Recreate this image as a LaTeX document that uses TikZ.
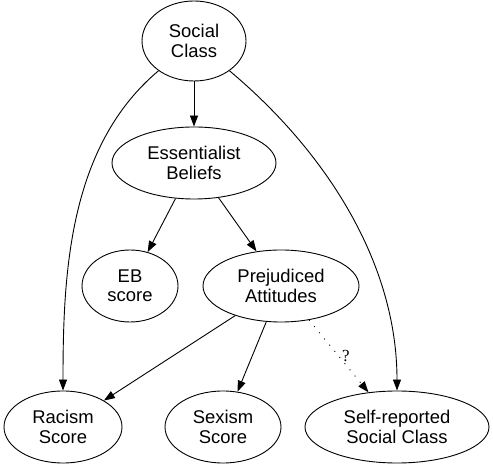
\documentclass[tikz,border=0pt]{standalone}
\usepackage{fontspec}
\setmainfont{Liberation Sans}
\newfontfamily\qfont{Liberation Serif}
\usetikzlibrary{calc,shapes,arrows.meta}

\begin{document}
\begin{tikzpicture}[x=1bp, y=1bp,
    var/.style = {ellipse, draw, line width=0.9bp, align=center, inner sep=0pt,
                  font=\fontsize{18.5}{19.5}\selectfont},
    edge/.style = {line width=0.9bp, -{Triangle[length=11bp, width=8bp]}}]
  \useasboundingbox (0,0) rectangle (493,469);

  \node [var, minimum width=104bp, minimum height=80bp] (social) at (194,428) {Social\\Class};
  \node [var, minimum width=164bp, minimum height=72bp] (ess) at (194,306) {Essentialist\\Beliefs};
  \node [var, minimum width=96bp, minimum height=72bp] (ebscore) at (130,183) {EB\\score};
  \node [var, minimum width=156bp, minimum height=72bp] (prej) at (281,183) {Prejudiced\\Attitudes};
  \node [var, minimum width=118bp, minimum height=72bp] (racism) at (63,42) {Racism\\Score};
  \node [var, minimum width=116bp, minimum height=72bp] (sexism) at (223,42) {Sexism\\Score};
  \node [var, minimum width=184bp, minimum height=72bp] (selfrep) at (397,42) {Self-reported\\Social Class};

  \draw [edge] (social) -- (ess);
  \draw [edge] (social) to [out=-140, in=90, looseness=0.9] (racism);
  \draw [edge] (social) to [out=-40, in=90, looseness=0.9] (selfrep);
  \draw [edge] (ess) -- (ebscore);
  \draw [edge] (ess) -- (prej);
  \draw [edge] (prej) -- (racism);
  \draw [edge] (prej) -- (sexism);
  \draw [edge, dash pattern=on 1bp off 7bp] (prej) -- (selfrep)
    node [pos=0.5, right, inner sep=3bp, font=\qfont\fontsize{17}{18}\selectfont] {?};
\end{tikzpicture}
\end{document}
